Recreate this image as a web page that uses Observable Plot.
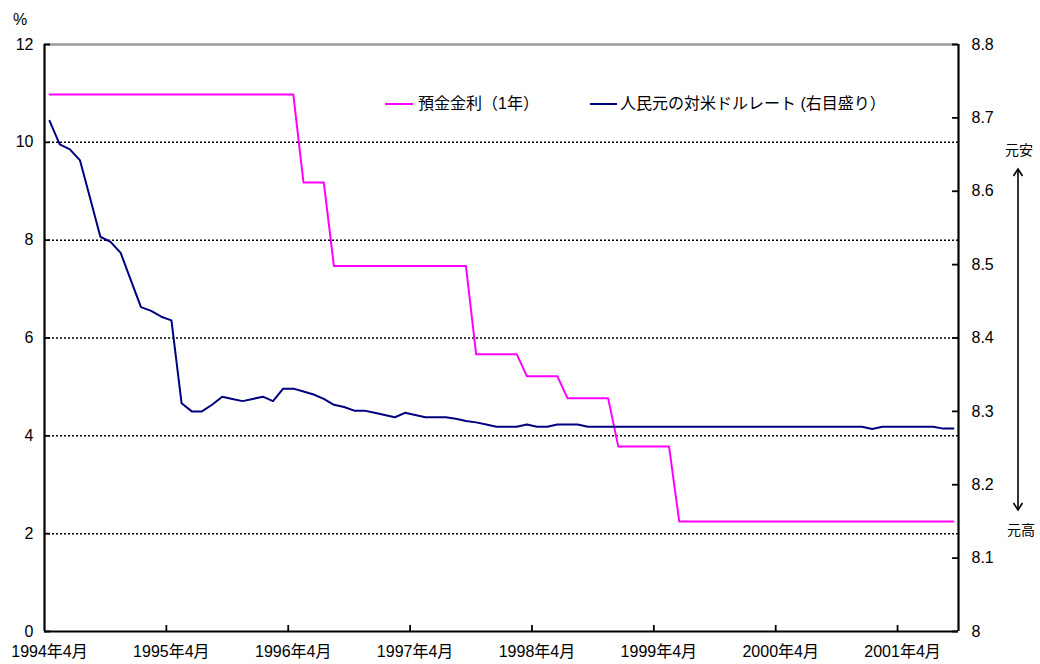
<!DOCTYPE html>
<html><head><meta charset="utf-8">
<script src="https://cdn.jsdelivr.net/npm/d3@7"></script>
<script src="https://cdn.jsdelivr.net/npm/@observablehq/plot@0.6"></script>
<style>
body{margin:0;background:#fff;font-family:"Liberation Sans","Noto Sans CJK JP",sans-serif;}
#wrap{position:relative;width:1040px;height:664px;overflow:hidden;}
.ov{position:absolute;color:#000;white-space:nowrap;line-height:1;font-family:"Liberation Sans","Noto Sans CJK JP",sans-serif;}
.sw{position:absolute;height:2px;}
</style></head><body><div id="wrap"></div>
<script>
// Months: 1994年4月 (index 0) ... 2001年9月 (index 89)
const nMonths = 90;
const xTickPos = [0, 12, 24, 36, 48, 60, 72, 84];
const xTickLabels = ["1994年4月","1995年4月","1996年4月","1997年4月","1998年4月","1999年4月","2000年4月","2001年4月"];
const leftTicks = [0, 2, 4, 6, 8, 10, 12];
const rightTicks = [8, 8.1, 8.2, 8.3, 8.4, 8.5, 8.6, 8.7, 8.8];
const rightLabels = ["8","8.1","8.2","8.3","8.4","8.5","8.6","8.7","8.8"];
const seriesNames = ["預金金利（1年）", "人民元の対米ドルレート (右目盛り）"];

// 預金金利（1年）, %
const depositRate = [
  10.98,10.98,10.98,10.98,10.98,10.98,10.98,10.98,10.98,10.98,10.98,10.98,
  10.98,10.98,10.98,10.98,10.98,10.98,10.98,10.98,10.98,10.98,10.98,10.98,
  10.98,9.18,9.18,9.18,7.47,7.47,7.47,7.47,7.47,7.47,7.47,7.47,
  7.47,7.47,7.47,7.47,7.47,7.47,5.67,5.67,5.67,5.67,5.67,5.22,
  5.22,5.22,5.22,4.77,4.77,4.77,4.77,4.77,3.78,3.78,3.78,3.78,
  3.78,3.78,2.25,2.25,2.25,2.25,2.25,2.25,2.25,2.25,2.25,2.25,
  2.25,2.25,2.25,2.25,2.25,2.25,2.25,2.25,2.25,2.25,2.25,2.25,
  2.25,2.25,2.25,2.25,2.25,2.25
];

// 人民元の対米ドルレート (元/ドル, right axis)
const cnyUsd = [
  8.696,8.664,8.657,8.642,8.590,8.538,8.531,8.516,8.479,8.442,8.437,8.429,
  8.424,8.311,8.300,8.300,8.309,8.320,8.317,8.314,8.317,8.320,8.314,8.331,
  8.331,8.327,8.323,8.317,8.309,8.306,8.301,8.301,8.298,8.295,8.292,8.298,
  8.295,8.292,8.292,8.292,8.290,8.287,8.285,8.282,8.279,8.279,8.279,8.282,
  8.279,8.279,8.282,8.282,8.282,8.279,8.279,8.279,8.279,8.279,8.279,8.279,
  8.279,8.279,8.279,8.279,8.279,8.279,8.279,8.279,8.279,8.279,8.279,8.279,
  8.279,8.279,8.279,8.279,8.279,8.279,8.279,8.279,8.279,8.276,8.279,8.279,
  8.279,8.279,8.279,8.279,8.2765,8.2765
];

const W = 1040, H = 664, mL = 44, mR = 82, mT = 44, mB = 33;
const frameW = W - mL - mR, frameH = H - mT - mB;
const leftMax = 12, rightMin = 8, rightMax = 8.8;
const toLeft = v => (v - rightMin) * leftMax / (rightMax - rightMin);
const rightTicksLeft = rightTicks.map(toLeft);

const rows = depositRate.map((r, i) => ({m: i + 0.5, rate: r, fx: toLeft(cnyUsd[i])}));
const font = '"Liberation Sans","Noto Sans CJK JP",sans-serif';

const chart = Plot.plot({
  width: W, height: H,
  marginLeft: mL, marginRight: mR, marginTop: mT, marginBottom: mB,
  style: {fontFamily: font, fontSize: "16px", background: "white", color: "black", overflow: "visible"},
  x: {type: "linear", domain: [0, nMonths], label: null},
  y: {domain: [0, leftMax], label: null},
  marks: [
    Plot.ruleY(leftTicks.filter(d => d > 0 && d < leftMax), {y: d => d, stroke: "#000", strokeWidth: 1.5, strokeDasharray: "2,2"}),
    Plot.ruleY([leftMax], {y: d => d, stroke: "#9a9a9a", strokeWidth: 2.5}),
    Plot.line(rows, {x: "m", y: "rate", stroke: "#ff00ff", strokeWidth: 2}),
    Plot.line(rows, {x: "m", y: "fx", stroke: "#000080", strokeWidth: 2}),
    Plot.ruleX([0], {x: d => d, stroke: "#000", strokeWidth: 2.2}),
    Plot.ruleX([nMonths], {x: d => d, stroke: "#000", strokeWidth: 2.2}),
    Plot.ruleY([0], {y: d => d, stroke: "#000", strokeWidth: 2.2}),
    Plot.tickX(xTickPos.slice(1), {x: d => d, insetTop: frameH - 6, stroke: "#000", strokeWidth: 1.8}),
    Plot.tickY(leftTicks, {y: d => d, insetRight: frameW - 6, stroke: "#000", strokeWidth: 1.8}),
    Plot.tickY(rightTicksLeft, {y: d => d, insetLeft: frameW - 6, stroke: "#000", strokeWidth: 1.8}),
    Plot.axisX({ticks: xTickPos, tickSize: 0, tickPadding: 14, dx: 5, label: null,
      tickFormat: d => xTickLabels[xTickPos.indexOf(d)]}),
    Plot.axisY({ticks: leftTicks, tickSize: 0, tickPadding: 11, label: null, tickFormat: d => String(d)}),
    Plot.axisY({anchor: "right", ticks: rightTicksLeft, tickSize: 0, tickPadding: 13, label: null, textAnchor: "start",
      tickFormat: d => rightLabels[rightTicksLeft.findIndex(t => Math.abs(t - d) < 1e-9)]})
  ]
});

const wrap = document.getElementById("wrap");
wrap.appendChild(chart);

function addText(txt, left, top, size, extra) {
  const d = document.createElement("div");
  d.className = "ov";
  d.textContent = txt;
  d.style.left = left + "px";
  d.style.top = top + "px";
  d.style.fontSize = size + "px";
  if (extra) Object.assign(d.style, extra);
  wrap.appendChild(d);
  return d;
}
function addSwatch(color, left, top, width) {
  const d = document.createElement("div");
  d.className = "sw";
  d.style.background = color;
  d.style.left = left + "px";
  d.style.top = top + "px";
  d.style.width = width + "px";
  wrap.appendChild(d);
}

addText("%", 13, 12, 16);
addSwatch("#ff00ff", 385, 103, 28);
addText(seriesNames[0], 418, 96, 16);
addSwatch("#000080", 590, 103, 27);
addText(seriesNames[1], 620, 96, 16);

addText("元安", 1005, 143, 14);
addText("元高", 1007, 523, 14);

const ns = "http://www.w3.org/2000/svg";
const arr = document.createElementNS(ns, "svg");
arr.setAttribute("width", 30); arr.setAttribute("height", 360);
arr.style.position = "absolute"; arr.style.left = "1004px"; arr.style.top = "160px";
arr.innerHTML = '<path d="M14,9V350" stroke="#000" stroke-width="1.6" fill="none"/>' +
  '<path d="M9.5,16L14,9L18.5,16" stroke="#000" stroke-width="1.6" fill="none"/>' +
  '<path d="M9.5,343L14,350L18.5,343" stroke="#000" stroke-width="1.6" fill="none"/>';
wrap.appendChild(arr);
</script></body></html>
